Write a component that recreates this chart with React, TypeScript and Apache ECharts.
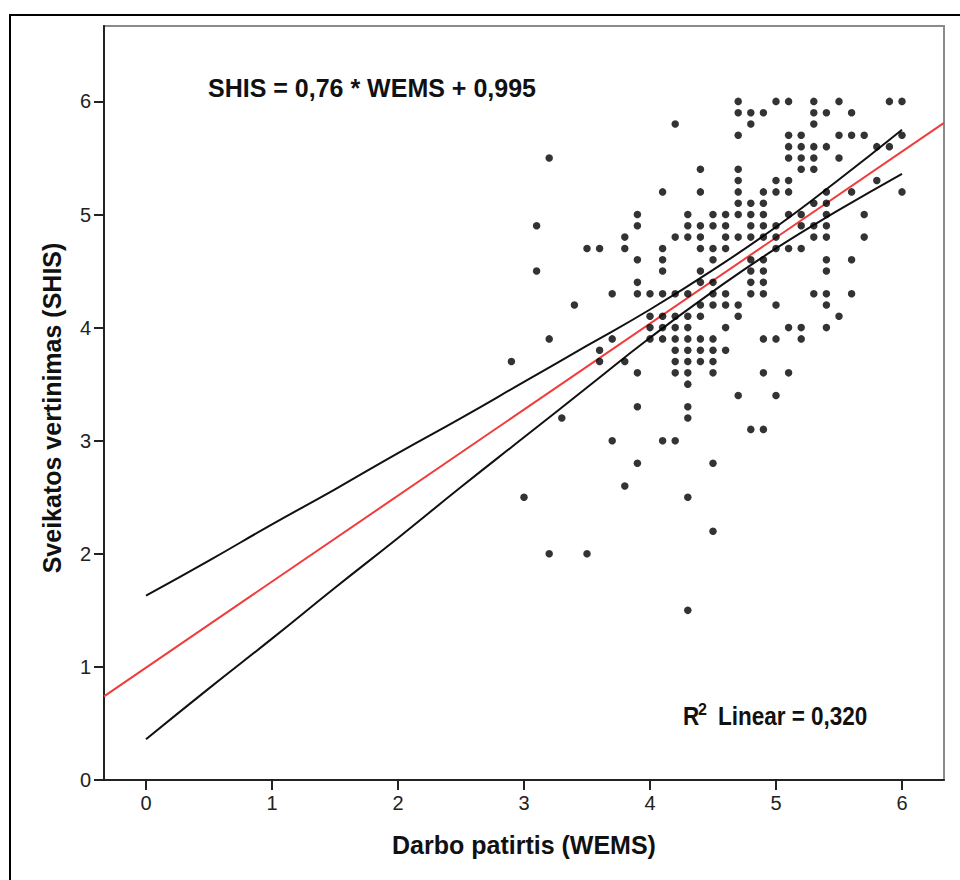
import React, { useEffect, useRef } from "react";
import * as echarts from "echarts";

// Scatter points grouped by WEMS value: [x, list of SHIS values]
const pointsByX: [number, number[]][] = [
  [2.9, [3.7]],
  [3.0, [2.5]],
  [3.1, [4.9, 4.5]],
  [3.2, [5.5, 3.9, 2.0]],
  [3.3, [3.2]],
  [3.4, [4.2]],
  [3.5, [4.7, 2.0]],
  [3.6, [4.7, 3.8, 3.7]],
  [3.7, [4.3, 3.9, 3.0]],
  [3.8, [4.8, 4.7, 3.7, 2.6]],
  [3.9, [5.0, 4.9, 4.6, 4.4, 4.3, 3.6, 3.3, 2.8]],
  [4.0, [4.3, 4.1, 4.0, 3.9]],
  [4.1, [5.2, 4.7, 4.6, 4.5, 4.3, 4.1, 4.0, 3.9, 3.0]],
  [4.2, [5.8, 4.8, 4.3, 4.1, 4.0, 3.9, 3.8, 3.7, 3.6, 3.0]],
  [4.3, [5.0, 4.9, 4.8, 4.3, 4.1, 4.0, 3.9, 3.8, 3.7, 3.6, 3.5, 3.3, 3.2, 2.5, 1.5]],
  [4.4, [5.4, 5.2, 4.9, 4.8, 4.7, 4.5, 4.4, 4.2, 4.1, 3.9, 3.8, 3.7]],
  [4.5, [5.0, 4.9, 4.7, 4.6, 4.4, 4.3, 4.2, 3.9, 3.8, 3.7, 3.6, 2.8, 2.2]],
  [4.6, [5.0, 4.9, 4.8, 4.7, 4.3, 4.2, 4.0, 3.8]],
  [4.7, [6.0, 5.9, 5.7, 5.4, 5.3, 5.2, 5.1, 5.0, 4.8, 4.2, 4.1, 3.4]],
  [4.8, [5.9, 5.8, 5.1, 5.0, 4.9, 4.8, 4.6, 4.5, 4.4, 4.3, 3.1]],
  [4.9, [5.9, 5.2, 5.1, 5.0, 4.9, 4.8, 4.6, 4.5, 4.4, 4.3, 3.9, 3.6, 3.1]],
  [5.0, [6.0, 5.3, 5.2, 4.9, 4.8, 4.7, 4.2, 3.9, 3.4]],
  [5.1, [6.0, 5.7, 5.6, 5.5, 5.3, 5.2, 5.0, 4.7, 4.0, 3.6]],
  [5.2, [5.7, 5.6, 5.5, 5.4, 5.0, 4.9, 4.7, 4.0, 3.9]],
  [5.3, [6.0, 5.9, 5.8, 5.6, 5.5, 5.4, 5.1, 4.9, 4.8, 4.3]],
  [5.4, [5.9, 5.6, 5.2, 5.1, 5.0, 4.9, 4.8, 4.6, 4.5, 4.3, 4.2, 4.0]],
  [5.5, [6.0, 5.7, 5.5, 4.1]],
  [5.6, [5.9, 5.7, 5.2, 4.6, 4.3]],
  [5.7, [5.7, 5.0, 4.8]],
  [5.8, [5.6, 5.3]],
  [5.9, [6.0, 5.6]],
  [6.0, [6.0, 5.7, 5.2]],
];

// Fit line (red), endpoints at the plot edges
const fitX = [-1 / 3, 19 / 3];
const fitY = [0.74, 5.81];

// Confidence band lines (black)
const bandX = [0, 0.5, 1, 1.5, 2, 2.5, 3, 3.5, 4, 4.5, 5, 5.5, 6];
const bandUpper = [1.63, 1.94, 2.26, 2.57, 2.89, 3.2, 3.52, 3.84, 4.16, 4.51, 4.89, 5.31, 5.75];
const bandLower = [0.36, 0.81, 1.25, 1.7, 2.14, 2.59, 3.03, 3.47, 3.91, 4.32, 4.7, 5.04, 5.36];

const xTicks = [0, 1, 2, 3, 4, 5, 6];
const yTicks = [0, 1, 2, 3, 4, 5, 6];

const equationText = "SHIS = 0,76 * WEMS + 0,995";
const r2Value = "Linear = 0,320";
const xTitle = "Darbo patirtis (WEMS)";
const yTitle = "Sveikatos vertinimas (SHIS)";

const FONT = "'Liberation Sans', Arial, Helvetica, sans-serif";

export default function App() {
  const ref = useRef<HTMLDivElement>(null);

  useEffect(() => {
    if (!ref.current) return;
    const chart = echarts.init(ref.current, null, { renderer: "svg" });

    const scatterData: number[][] = [];
    pointsByX.forEach(([x, ys]) => ys.forEach((y) => scatterData.push([x, y])));

    const axisLineStyle = { color: "#222", width: 2 };

    chart.setOption({
      animation: false,
      backgroundColor: "#fff",
      grid: {
        left: 104,
        right: 16,
        top: 26,
        bottom: 100,
        show: true,
        borderColor: "#8a8a8a",
        borderWidth: 2,
        backgroundColor: "transparent",
      },
      xAxis: {
        type: "value",
        min: -1 / 3,
        max: 19 / 3,
        axisLine: { show: true, onZero: false, lineStyle: axisLineStyle },
        axisTick: { show: true, length: 10, lineStyle: axisLineStyle, customValues: xTicks },
        axisLabel: {
          customValues: xTicks,
          fontSize: 20,
          color: "#222",
          margin: 13,
          fontFamily: FONT,
        },
        splitLine: { show: false },
      },
      yAxis: {
        type: "value",
        min: 0,
        max: 20 / 3,
        axisLine: { show: true, onZero: false, lineStyle: axisLineStyle },
        axisTick: { show: true, length: 10, lineStyle: axisLineStyle, customValues: yTicks },
        axisLabel: {
          customValues: yTicks,
          fontSize: 20,
          color: "#222",
          margin: 13,
          fontFamily: FONT,
        },
        splitLine: { show: false },
      },
      series: [
        {
          type: "line",
          data: bandX.map((x, i) => [x, bandUpper[i]]),
          smooth: true,
          symbol: "none",
          lineStyle: { color: "#111", width: 2 },
          z: 3,
        },
        {
          type: "line",
          data: bandX.map((x, i) => [x, bandLower[i]]),
          smooth: true,
          symbol: "none",
          lineStyle: { color: "#111", width: 2 },
          z: 3,
        },
        {
          type: "line",
          data: fitX.map((x, i) => [x, fitY[i]]),
          symbol: "none",
          lineStyle: { color: "#f03c3c", width: 2 },
          z: 4,
        },
        {
          type: "scatter",
          data: scatterData,
          symbol: "circle",
          symbolSize: 7.5,
          itemStyle: { color: "#000" },
          z: 5,
        },
      ],
      graphic: [
        {
          type: "rect",
          shape: { x: 10, y: 15, width: 1000, height: 1000 },
          style: { fill: "none", stroke: "#000", lineWidth: 2 },
          silent: true,
        },
        {
          type: "text",
          x: 208,
          y: 88,
          style: {
            text: equationText,
            font: `bold 25px ${FONT}`,
            fill: "#111",
            textAlign: "left",
            textVerticalAlign: "middle",
          },
        },
        {
          type: "text",
          x: 683,
          y: 716,
          scaleX: 0.9,
          style: {
            text: "R",
            font: `bold 25px ${FONT}`,
            fill: "#111",
            textAlign: "left",
            textVerticalAlign: "middle",
          },
        },
        {
          type: "text",
          x: 698,
          y: 709,
          style: {
            text: "2",
            font: `bold 16px ${FONT}`,
            fill: "#111",
            textAlign: "left",
            textVerticalAlign: "middle",
          },
        },
        {
          type: "text",
          x: 718,
          y: 716,
          scaleX: 0.9,
          style: {
            text: r2Value,
            font: `bold 25px ${FONT}`,
            fill: "#111",
            textAlign: "left",
            textVerticalAlign: "middle",
          },
        },
        {
          type: "text",
          x: 524,
          y: 845,
          style: {
            text: xTitle,
            font: `bold 25px ${FONT}`,
            fill: "#111",
            textAlign: "center",
            textVerticalAlign: "middle",
          },
        },
        {
          type: "text",
          x: 52,
          y: 408,
          rotation: Math.PI / 2,
          style: {
            text: yTitle,
            font: `bold 25px ${FONT}`,
            fill: "#111",
            textAlign: "center",
            textVerticalAlign: "middle",
          },
        },
      ],
    });

    return () => chart.dispose();
  }, []);

  return (
    <div
      ref={ref}
      style={{ position: "absolute", left: 0, top: 0, width: 960, height: 880 }}
    />
  );
}
